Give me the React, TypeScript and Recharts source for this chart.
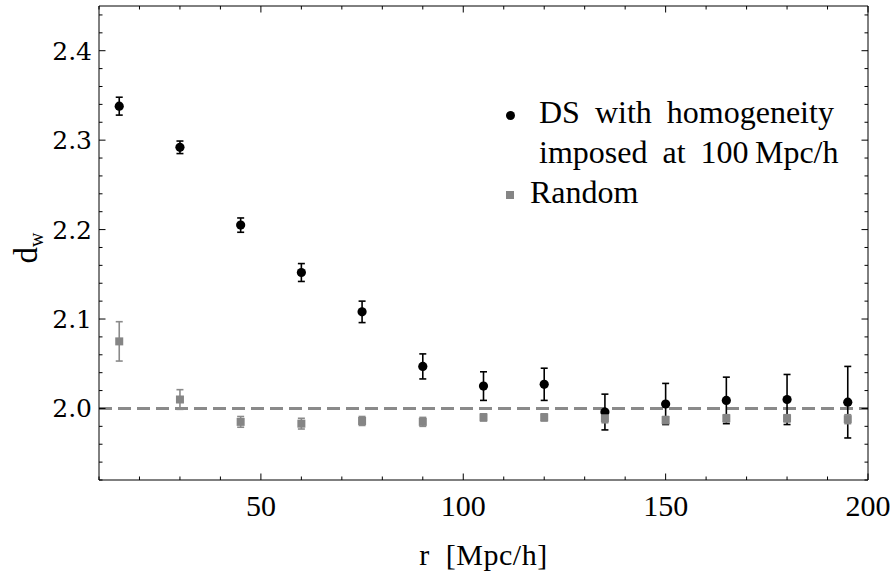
import { ScatterChart, Scatter, XAxis, YAxis, ErrorBar, ReferenceLine } from "recharts";

// r in Mpc/h
const rValues = [15, 30, 45, 60, 75, 90, 105, 120, 135, 150, 165, 180, 195];

// DS with homogeneity imposed at 100 Mpc/h
const dsValues = [2.338, 2.292, 2.205, 2.152, 2.108, 2.047, 2.025, 2.027, 1.996, 2.005, 2.009, 2.01, 2.007];
const dsErrors = [0.01, 0.007, 0.008, 0.01, 0.012, 0.014, 0.016, 0.018, 0.02, 0.023, 0.026, 0.028, 0.04];

// Random catalogue
const randomValues = [2.075, 2.01, 1.985, 1.983, 1.986, 1.985, 1.99, 1.99, 1.989, 1.987, 1.989, 1.989, 1.988];
const randomErrors = [0.022, 0.011, 0.006, 0.006, 0.005, 0.005, 0.004, 0.004, 0.005, 0.004, 0.004, 0.004, 0.005];

const homogeneityLevel = 2.0;

const xTicks = [10, 20, 30, 40, 50, 60, 70, 80, 90, 100, 110, 120, 130, 140, 150, 160, 170, 180, 190, 200];
const xTickLabels = [50, 100, 150, 200];
const yTicks = [
  1.92, 1.94, 1.96, 1.98, 2.0, 2.02, 2.04, 2.06, 2.08, 2.1, 2.12, 2.14, 2.16, 2.18, 2.2,
  2.22, 2.24, 2.26, 2.28, 2.3, 2.32, 2.34, 2.36, 2.38, 2.4, 2.42, 2.44,
];
const yTickLabels = [2.0, 2.1, 2.2, 2.3, 2.4];

const dsData = rValues.map((r, i) => ({ r, d: dsValues[i], err: dsErrors[i] }));
const randomData = rValues.map((r, i) => ({ r, d: randomValues[i], err: randomErrors[i] }));

const isMajorX = (v: number) => xTickLabels.includes(v);
const isMajorY = (v: number) => yTickLabels.some((l) => Math.abs(l - v) < 1e-6);

const MAJOR = 6.5;
const MINOR = 3.5;
const serif = "Liberation Serif, Times New Roman, serif";

const BottomTick = ({ x, y, payload }: any) => {
  const v = payload.value;
  const major = isMajorX(v);
  return (
    <g>
      <line x1={x} y1={y} x2={x} y2={y - (major ? MAJOR : MINOR)} stroke="#000" strokeWidth={1} />
      {major && (
        <text x={x} y={y + 36} textAnchor="middle" fontFamily={serif} fontSize={30} fill="#000">
          {v}
        </text>
      )}
    </g>
  );
};

const TopTick = ({ x, y, payload }: any) => {
  const major = isMajorX(payload.value);
  return <line x1={x} y1={y} x2={x} y2={y + (major ? MAJOR : MINOR)} stroke="#000" strokeWidth={1} />;
};

const LeftTick = ({ x, y, payload }: any) => {
  const v = payload.value;
  const major = isMajorY(v);
  return (
    <g>
      <line x1={x} y1={y} x2={x + (major ? MAJOR : MINOR)} y2={y} stroke="#000" strokeWidth={1} />
      {major && (
        <text x={x - 7} y={y + 9} textAnchor="end" fontFamily="DejaVu Serif" fontSize={25} fill="#000">
          {v.toFixed(1)}
        </text>
      )}
    </g>
  );
};

const RightTick = ({ x, y, payload }: any) => {
  const major = isMajorY(payload.value);
  return <line x1={x} y1={y} x2={x - (major ? MAJOR : MINOR)} y2={y} stroke="#000" strokeWidth={1} />;
};

const Dot = (props: any) => <circle cx={props.cx} cy={props.cy} r={4.6} fill="#000" />;
const Square = (props: any) => (
  <rect x={props.cx - 4} y={props.cy - 4} width={8} height={8} fill="#858585" />
);

export default function App() {
  return (
    <div style={{ position: "absolute", left: 0, top: 0, width: 896, height: 571, background: "#fff" }}>
      <ScatterChart width={896} height={571} margin={{ top: 0, right: 0, bottom: 0, left: 8 }}>
        <XAxis
          xAxisId="bottom"
          type="number"
          dataKey="r"
          domain={[10, 200]}
          ticks={xTicks}
          interval={0}
          allowDataOverflow
          height={91}
          tickSize={0}
          tickMargin={0}
          tickLine={false}
          axisLine={{ stroke: "#000", strokeWidth: 1 }}
          tick={<BottomTick />}
          label={{
            content: ({ viewBox }: any) => (
              <text
                x={viewBox.x + viewBox.width / 2}
                y={565}
                textAnchor="middle"
                fontFamily={serif}
                fontSize={30}
                wordSpacing={8}
                letterSpacing={0.5}
                fill="#000"
              >
                r [Mpc/h]
              </text>
            ),
          }}
        />
        <XAxis
          xAxisId="top"
          orientation="top"
          type="number"
          dataKey="r"
          domain={[10, 200]}
          ticks={xTicks}
          interval={0}
          allowDataOverflow
          height={6}
          tickSize={0}
          tickMargin={0}
          tickLine={false}
          axisLine={{ stroke: "#000", strokeWidth: 1 }}
          tick={<TopTick />}
        />
        <YAxis
          yAxisId="left"
          type="number"
          dataKey="d"
          domain={[1.92, 2.45]}
          ticks={yTicks}
          interval={0}
          allowDataOverflow
          width={91}
          tickSize={0}
          tickMargin={0}
          tickLine={false}
          axisLine={{ stroke: "#000", strokeWidth: 1 }}
          tick={<LeftTick />}
          label={{
            content: ({ viewBox }: any) => (
              <text
                transform={`translate(37, ${viewBox.y + viewBox.height / 2 + 5}) rotate(-90)`}
                textAnchor="middle"
                fontFamily={serif}
                fontSize={33}
                fill="#000"
              >
                d
                <tspan fontSize={20} dy={6}>
                  w
                </tspan>
              </text>
            ),
          }}
        />
        <YAxis
          yAxisId="right"
          orientation="right"
          type="number"
          dataKey="d"
          domain={[1.92, 2.45]}
          ticks={yTicks}
          interval={0}
          allowDataOverflow
          width={28}
          tickSize={0}
          tickMargin={0}
          tickLine={false}
          axisLine={{ stroke: "#000", strokeWidth: 1 }}
          tick={<RightTick />}
        />
        <ReferenceLine
          xAxisId="bottom"
          yAxisId="left"
          y={homogeneityLevel}
          stroke="#8a8a8a"
          strokeWidth={3}
          strokeDasharray="13 6"
        />
        <Scatter
          name="DS with homogeneity imposed at 100Mpc/h"
          data={dsData}
          dataKey="d"
          xAxisId="bottom"
          yAxisId="left"
          shape={<Dot />}
          isAnimationActive={false}
        >
          <ErrorBar dataKey="err" direction="y" width={3.5} stroke="#000" strokeWidth={1.6} isAnimationActive={false} />
        </Scatter>
        <Scatter
          name="Random"
          data={randomData}
          dataKey="d"
          xAxisId="bottom"
          yAxisId="left"
          shape={<Square />}
          isAnimationActive={false}
        >
          <ErrorBar dataKey="err" direction="y" width={3.5} stroke="#8a8a8a" strokeWidth={1.6} isAnimationActive={false} />
        </Scatter>
      </ScatterChart>

      {/* legend, placed where the original one sits */}
      <div style={{ position: "absolute", left: 500, top: 92, fontFamily: serif, fontSize: 32, lineHeight: "40px", color: "#000", whiteSpace: "nowrap" }}>
        <div style={{ position: "relative", paddingLeft: 39 }}>
          <span style={{ position: "absolute", left: 6, top: 19, width: 9, height: 9, borderRadius: "50%", background: "#000" }} />
          <div style={{ wordSpacing: 7 }}>DS with homogeneity</div>
          <div style={{ wordSpacing: 7 }}>imposed at 100{"\u2009"}Mpc/h</div>
        </div>
        <div style={{ position: "relative", paddingLeft: 30 }}>
          <span style={{ position: "absolute", left: 6, top: 19, width: 8, height: 8, background: "#858585" }} />
          Random
        </div>
      </div>
    </div>
  );
}
